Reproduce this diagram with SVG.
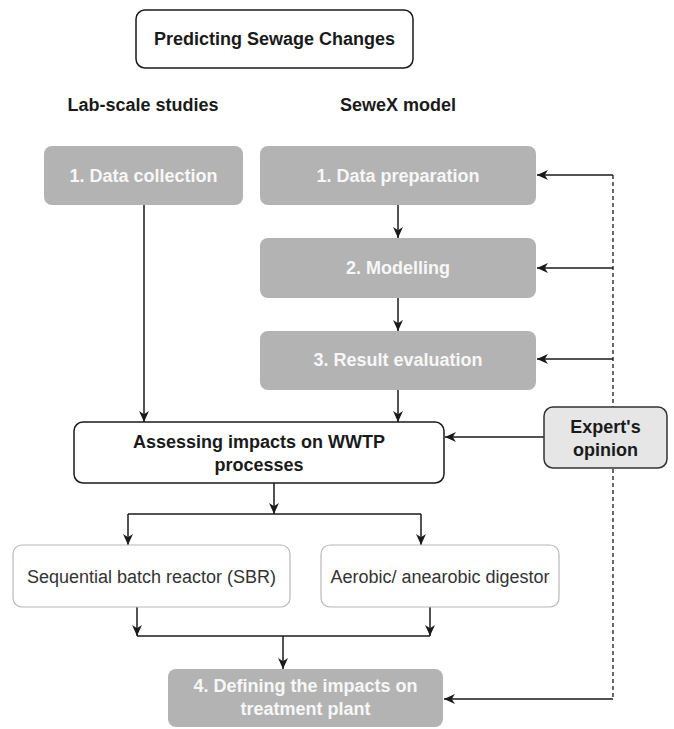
<svg xmlns="http://www.w3.org/2000/svg" width="674" height="729" viewBox="0 0 674 729">
<style>
  text { font-family: "Liberation Sans", Arial, sans-serif; text-anchor: middle; }
  .b { font-weight: bold; font-size: 18px; fill: #1a1a1a; }
  .g { fill: #b3b3b3; stroke: none; }
  .gt { font-weight: bold; font-size: 18px; fill: #f7f7f7; }
  .w { fill: #ffffff; stroke: #1a1a1a; stroke-width: 1.5; }
  .lw { fill: #ffffff; stroke: #b8b8b8; stroke-width: 1.2; }
  .nt { font-size: 18px; fill: #333333; }
  .c { fill: none; stroke: #1a1a1a; stroke-width: 1.5; }
  .a { marker-end: url(#arr); }
  .d { fill: none; stroke: #1a1a1a; stroke-width: 1.3; stroke-dasharray: 4 3; }
</style>
<defs>
  <marker id="arr" viewBox="0 0 10 10" refX="10" refY="5" markerWidth="11" markerHeight="11" markerUnits="userSpaceOnUse" orient="auto">
    <path d="M0,0.5 L10,5 L0,9.5 L3,5 z" fill="#1a1a1a"/>
  </marker>
</defs>

<g id="connectors">
  <path class="d" d="M613,175 V699"/>
  <path class="c a" d="M613,175 H537"/>
  <path class="c a" d="M613,268 H537"/>
  <path class="c a" d="M613,359 H537"/>
  <path class="c a" d="M613,699 H444"/>
  <path class="c a" d="M144,205 V422"/>
  <path class="c a" d="M398,205 V238"/>
  <path class="c a" d="M398,298 V331"/>
  <path class="c a" d="M398,390 V422"/>
  <path class="c a" d="M544,437 H445"/>
  <path class="c a" d="M274,483 V514"/>
  <path class="c" d="M128,514 H421"/>
  <path class="c a" d="M128,514 V545"/>
  <path class="c a" d="M421,514 V545"/>
  <path class="c a" d="M137,607 V636"/>
  <path class="c a" d="M430,607 V636"/>
  <path class="c" d="M137,636 H430"/>
  <path class="c a" d="M283,636 V669"/>
</g>

<g id="title">
  <rect class="w" x="136" y="10" width="277" height="58" rx="9"/>
  <text class="b" x="274.5" y="45">Predicting Sewage Changes</text>
</g>
<g id="lab-label">
  <text class="b" x="143" y="111">Lab-scale studies</text>
</g>
<g id="sewex-label">
  <text class="b" x="398" y="111">SeweX model</text>
</g>
<g id="data-collection">
  <rect class="g" x="44" y="146" width="199" height="59" rx="8"/>
  <text class="gt" x="143.5" y="182">1. Data collection</text>
</g>
<g id="data-preparation">
  <rect class="g" x="260" y="146" width="276" height="59" rx="8"/>
  <text class="gt" x="398" y="182">1. Data preparation</text>
</g>
<g id="modelling">
  <rect class="g" x="260" y="238" width="276" height="60" rx="8"/>
  <text class="gt" x="398" y="274">2. Modelling</text>
</g>
<g id="result-evaluation">
  <rect class="g" x="260" y="331" width="276" height="59" rx="8"/>
  <text class="gt" x="398" y="366">3. Result evaluation</text>
</g>
<g id="assessing">
  <rect class="w" x="74" y="422" width="370" height="61" rx="9"/>
  <text class="b" x="259" y="448">Assessing impacts on WWTP</text>
  <text class="b" x="259" y="471">processes</text>
</g>
<g id="expert">
  <rect x="544" y="407" width="123" height="61" rx="9" fill="#e6e6e6" stroke="#333333" stroke-width="1.5"/>
  <text class="b" x="605.5" y="433">Expert's</text>
  <text class="b" x="605.5" y="456">opinion</text>
</g>
<g id="sbr">
  <rect class="lw" x="13" y="545" width="277" height="62" rx="9"/>
  <text class="nt" x="151.5" y="583">Sequential batch reactor (SBR)</text>
</g>
<g id="digestor">
  <rect class="lw" x="321" y="545" width="238" height="62" rx="9"/>
  <text class="nt" x="440" y="583">Aerobic/ anearobic digestor</text>
</g>
<g id="defining">
  <rect class="g" x="168" y="669" width="275" height="58" rx="8"/>
  <text class="gt" x="305.5" y="692">4. Defining the impacts on</text>
  <text class="gt" x="305.5" y="715">treatment plant</text>
</g>
</svg>
